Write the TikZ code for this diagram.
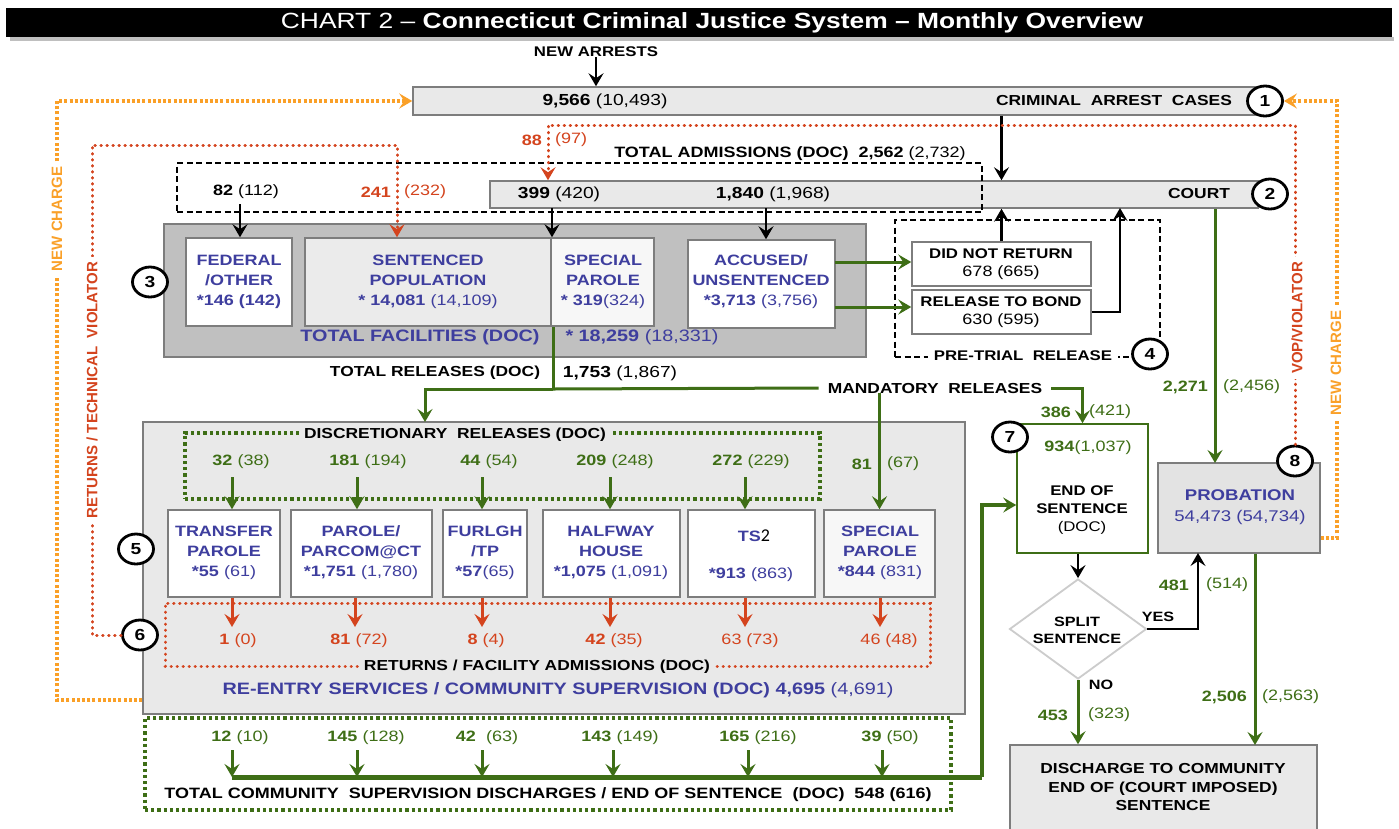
\documentclass[tikz,border=0pt]{standalone}
\usepackage{fontspec}
\setmainfont{Liberation Sans}[FakeStretch=1.2]
\newfontfamily\plainsans{Liberation Sans}
\newfontfamily\calfont{Carlito}
\usetikzlibrary{arrows.meta,shapes.geometric,fit}
\definecolor{cblue}{RGB}{62,62,158}
\definecolor{cgreen}{RGB}{62,110,22}
\definecolor{cred}{RGB}{212,68,30}
\definecolor{corange}{RGB}{250,160,40}
\definecolor{lgray}{RGB}{233,233,233}
\definecolor{dgray}{RGB}{192,192,192}
\definecolor{bgray}{RGB}{125,125,125}
\definecolor{spgray}{RGB}{247,247,247}
\definecolor{sgray}{RGB}{235,235,235}
\definecolor{pgray}{RGB}{227,227,227}
\tikzset{
  box/.style={draw=bgray, line width=1.5pt, inner sep=0pt},
  t/.style={inner sep=0pt, font=\fontsize{14}{18}\selectfont\bfseries, align=center},
  num/.style={inner sep=0pt, font=\fontsize{15}{18}\selectfont, align=center},
  bt/.style={inner sep=0pt, font=\fontsize{15}{20}\selectfont\bfseries, align=center, text=cblue},
  gn/.style={num, text=cgreen},
  rn/.style={num, text=cred},
  circ/.style={ellipse, draw=black, line width=2.8pt, fill=white, minimum width=35pt, minimum height=30pt, inner sep=0pt, font=\fontsize{16}{16}\selectfont\bfseries},
  tipa/.style={-{Stealth[length=13pt,width=15pt,inset=5pt]}},
  blk/.style={draw=black, line width=2.6pt, tipa},
  grn/.style={draw=cgreen, line width=3pt, tipa},
  grnl/.style={draw=cgreen, line width=3pt},
  gthick/.style={draw=cgreen, line width=5pt},
  redarr/.style={draw=cred, line width=3pt, tipa},
  redd/.style={draw=cred, line width=3pt, line cap=round, dash pattern=on 0.4pt off 5.6pt},
  orad/.style={draw=corange, line width=3.2pt, dash pattern=on 3pt off 2.2pt},
  grnd/.style={draw=cgreen, line width=3.4pt, dash pattern=on 3.2pt off 3pt, inner sep=0pt},
  dsh/.style={draw=black, line width=1.5pt, dash pattern=on 6pt off 3.5pt, inner sep=0pt},
  rot/.style={inner sep=0pt, inner xsep=5pt, inner ysep=2pt, fill=white, rotate=90, font=\plainsans\fontsize{15}{17}\selectfont\bfseries},
}
\begin{document}
\begin{tikzpicture}[x=1pt,y=-1pt]
\useasboundingbox (0,0) rectangle (1399,828);
\fill[white] (0,0) rectangle (1399,828);

% ---------- title ----------
\fill[gray!50] (10,37) rectangle (1394,41);
\fill[black] (6,8) rectangle (1392,37);
\node[inner sep=0pt, text=white, font=\fontsize{22}{24}\selectfont] (title) at (712,23) {CHART 2 – \textbf{Connecticut Criminal Justice System – Monthly Overview}};

% ---------- boxes ----------
\node[t] (na) at (596,52) {NEW ARRESTS};
\node[box, fill=lgray, fit={(413,87)(1258,115)}] (cac) {};
\node[num, font=\fontsize{16}{18}\selectfont] (cacn) at (605,101) {\textbf{9,566} (10,493)};
\node[t, font=\fontsize{14.5}{18}\selectfont\bfseries] (cacl) at (1114,101) {CRIMINAL\ \ ARREST\ \ CASES};

\node[box, fill=lgray, fit={(490,181)(1258,208)}] (court) {};
\node[num, font=\fontsize{16}{18}\selectfont] (cn1) at (559,194) {\textbf{399} (420)};
\node[num, font=\fontsize{16}{18}\selectfont] (cn2) at (773,194) {\textbf{1,840} (1,968)};
\node[t, font=\fontsize{14.5}{18}\selectfont\bfseries] (cl) at (1199,194) {COURT};

\node[t, font=\fontsize{15}{18}\selectfont\bfseries] (admt) at (790,154) {TOTAL ADMISSIONS (DOC)\hspace{10pt}\textbf{2,562} {\mdseries (2,732)}};

% total facilities
\node[box, fill=dgray, fit={(164,224)(866,357)}] (tf) {};
\node[box, fill=white, fit={(186,238)(292,326)}] (fed) {};
\node[box, fill=sgray, fit={(305,238)(551,326)}] (sent) {};
\node[box, fill=spgray, fit={(551,238)(654,326)}] (sp1) {};
\node[box, fill=white, fit={(688,240)(835,328)}] (acc) {};
\node[bt] (fedt) at (239,282) {FEDERAL\\/OTHER\\*146 (142)};
\node[bt] (sentt) at (428,282) {SENTENCED\\POPULATION\\* 14,081 {\mdseries (14,109)}};
\node[bt] (sp1t) at (603,282) {SPECIAL\\PAROLE\\* 319{\mdseries (324)}};
\node[bt] (acct) at (761,282) {ACCUSED/\\UNSENTENCED\\*3,713 {\mdseries (3,756)}};
\node[bt, font=\fontsize{16.5}{20}\selectfont\bfseries] (tft) at (420,337) {TOTAL FACILITIES (DOC)};
\node[bt, font=\fontsize{16.5}{20}\selectfont\bfseries] (tfn) at (642,337) {* 18,259 {\mdseries (18,331)}};

% pre-trial
\node[box, fill=white, fit={(912,242)(1091,286)}] (dnr) {};
\node[box, fill=white, fit={(912,290)(1091,334)}] (rtb) {};
\node[t, align=center] (dnrt) at (1001,264) {DID NOT RETURN\\{\mdseries\fontsize{15}{18}\selectfont 678 (665)}};
\node[t, align=center] (rtbt) at (1001,312) {RELEASE TO BOND\\{\mdseries\fontsize{15}{18}\selectfont 630 (595)}};
\node[dsh, fit={(895,220)(1160,357)}] (ptr) {};
\node[t, fill=white, inner xsep=6pt, inner ysep=2pt] (ptrl) at (1023,356) {PRE-TRIAL\ \ RELEASE};

% re-entry
\node[box, fill=lgray, fit={(143,422)(965,714)}] (re) {};
\node[grnd, fit={(185,433)(820,499)}] (disc) {};
\node[t, font=\fontsize{14.5}{18}\selectfont\bfseries, fill=lgray, inner xsep=5pt, inner ysep=2pt] (disct) at (455,435) {DISCRETIONARY\ \ RELEASES (DOC)};
\node[box, fill=white, fit={(168,510)(280,597)}] (p1) {};
\node[box, fill=white, fit={(291,510)(432,597)}] (p2) {};
\node[box, fill=white, fit={(443,510)(527,597)}] (p3) {};
\node[box, fill=white, fit={(543,510)(680,597)}] (p4) {};
\node[box, fill=white, fit={(688,510)(815,597)}] (p5) {};
\node[box, fill=spgray, fit={(824,510)(935,597)}] (sp2) {};
\node[bt] (p1t) at (224,553) {TRANSFER\\PAROLE\\*55 {\mdseries (61)}};
\node[bt] (p2t) at (361,553) {PAROLE/\\PARCOM@CT\\*1,751 {\mdseries (1,780)}};
\node[bt] (p3t) at (485,553) {FURLGH\\/TP\\*57{\mdseries (65)}};
\node[bt] (p4t) at (611,553) {HALFWAY\\HOUSE\\*1,075 {\mdseries (1,091)}};
\node[bt] (p5a) at (754,536) {TS{\calfont\mdseries\color{black}\fontsize{18}{18}\selectfont 2}};
\node[bt] (p5b) at (751,575) {*913 {\mdseries (863)}};
\node[bt] (sp2t) at (880,553) {SPECIAL\\PAROLE\\*844 {\mdseries (831)}};
\node[redd, fit={(165,603)(930,666)}, inner sep=0pt] (ret) {};
\node[t, font=\fontsize{14.5}{18}\selectfont\bfseries, fill=lgray, inner xsep=5pt, inner ysep=2pt] (rett) at (537,667) {RETURNS\ / FACILITY\ ADMISSIONS (DOC)};
\node[bt, font=\fontsize{16.5}{20}\selectfont\bfseries] (ret2) at (558,690) {RE-ENTRY SERVICES / COMMUNITY SUPERVISION (DOC) 4,695 {\mdseries (4,691)}};

% discharges
\node[grnd, fit={(145,718)(951,810)}] (dsc) {};
\node[t, font=\fontsize{15}{18}\selectfont\bfseries] (dsct) at (548,795) {TOTAL COMMUNITY\ \ SUPERVISION DISCHARGES\ / END OF SENTENCE\ \ (DOC)\ \ 548 (616)};

% right side
\node[draw=cgreen, line width=1.6pt, fill=white, inner sep=0pt, fit={(1017,424)(1148,553)}] (eos) {};
\node[gn] (eosn) at (1088,448) {\textbf{934}(1,037)};
\node[t] (eost) at (1082,510) {END OF\\SENTENCE\\{\mdseries (DOC)}};
\node[diamond, draw=gray!40, line width=1.8pt, fill=white, minimum width=137pt, minimum height=100pt, inner sep=0pt] (split) at (1078,629) {};
\node[t, font=\fontsize{13.5}{17}\selectfont\bfseries] (splitt) at (1077,630) {SPLIT\\SENTENCE};
\node[box, fill=pgray, fit={(1158,463)(1320,553)}] (prob) {};
\node[bt, font=\fontsize{15.5}{21}\selectfont\bfseries] (probt) at (1240,507) {PROBATION\\{\mdseries 54,473 (54,734)}};
\node[box, fill=lgray, fit={(1010,745)(1317,840)}] (dis) {};
\node[t, font=\fontsize{14.5}{18.5}\selectfont\bfseries] (dist) at (1163,787) {DISCHARGE TO COMMUNITY\\END OF (COURT IMPOSED)\\SENTENCE};
\node[t, font=\fontsize{13.5}{15}\selectfont\bfseries] (yes) at (1158,617) {YES};
\node[t, font=\fontsize{13.5}{15}\selectfont\bfseries] (no) at (1101,685) {NO};

% ---------- named coordinates ----------
\coordinate (f82) at (240,204);
\coordinate (ax1) at (552,208);
\coordinate (ax2) at (766,208);
\coordinate (r88x) at (548,125);
\coordinate (r241x) at (397,145);
\coordinate (rL) at (92,145);
\coordinate (oL1) at (57,700);
\coordinate (oL2) at (57,101);
\coordinate (oR) at (1337,538);
\coordinate (g1) at (835,262);
\coordinate (g2) at (835,307);
\coordinate (bondup) at (1120,208);
\coordinate (tr) at (553,389);
\coordinate (reA) at (425,422);
\coordinate (pin) at (1215,463);
\coordinate (yu) at (1198,553);
\coordinate (pd) at (1255,745);
\coordinate (h1) at (232,777);
\coordinate (hE) at (982,777);
\coordinate (hU) at (982,505);

% ---------- dashed admissions box (over court) ----------
\node[dsh, fit={(177,163)(982,212)}] (adm) {};

% ---------- black connectors ----------
\draw[blk] (na.south) -- (cac.north -| na.south);
\draw[blk] (cac.south -| dnr.north) -- (court.north -| dnr.north);
\draw[blk] (f82) -- (f82 |- fed.north);
\draw[blk] (ax1) -- (ax1 |- sp1.north);
\draw[blk] (ax2) -- (ax2 |- acc.north);
\draw[blk] (dnr.north) -- (dnr.north |- court.south);
\draw[blk] (rtb.east) -| (bondup);
\draw[blk] (split.north |- eos.south) -- (split.north);
\draw[blk] (split.east) -| (yu);

% ---------- green connectors ----------
\draw[grn] (g1) -- (dnr.west |- g1);
\draw[grn] (g2) -- (rtb.west |- g2);
\draw[grnl] (tr |- sp1.south) -- (tr);
\draw[grn] (tr) -| (reA);
\node[t, font=\fontsize{14.5}{18}\selectfont\bfseries, inner xsep=9pt] (mand) at (935,388) {MANDATORY\ \ RELEASES};
\node[t, font=\fontsize{14.5}{18}\selectfont\bfseries] (trt) at (435,373) {TOTAL RELEASES (DOC)};
\node[num, font=\fontsize{16}{18}\selectfont] (trn) at (620,373) {\textbf{1,753} (1,867)};
\draw[grnl] (tr) -- (mand.west);
\draw[grn] (mand.east) -| (eos.north);
\draw[grn] (mand.south -| sp2.north) -- (sp2.north);
\draw[grn] (court.south -| pin) -- (pin);
\draw[grn] (split.south) -- (split.south |- dis.north);
\draw[grn] (pd |- prob.south) -- (pd);

% discretionary arrows
\foreach \n/\x in {a1/232,a2/357,a3/482,a4/610,a5/745}{
  \coordinate (\n) at (\x,477);
}
\draw[grn] (a1) -- (a1 |- p1.north);
\draw[grn] (a2) -- (a2 |- p2.north);
\draw[grn] (a3) -- (a3 |- p3.north);
\draw[grn] (a4) -- (a4 |- p4.north);
\draw[grn] (a5) -- (a5 |- p5.north);
\node[gn] (d1) at (241,462) {\textbf{32} (38)};
\node[gn] (d2) at (368,462) {\textbf{181} (194)};
\node[gn] (d3) at (489,462) {\textbf{44} (54)};
\node[gn] (d4) at (615,462) {\textbf{209} (248)};
\node[gn] (d5) at (751,462) {\textbf{272} (229)};
\node[gn, anchor=east] (d6a) at (872,464) {\textbf{81}};
\node[gn, anchor=west] (d6b) at (887,464) {(67)};

% return arrows
\foreach \n/\x in {b1/232,b2/355,b3/482,b4/610,b5/745,b6/880}{
  \coordinate (\n) at (\x,627);
}
\draw[redarr] (b1 |- p1.south) -- (b1);
\draw[redarr] (b2 |- p2.south) -- (b2);
\draw[redarr] (b3 |- p3.south) -- (b3);
\draw[redarr] (b4 |- p4.south) -- (b4);
\draw[redarr] (b5 |- p5.south) -- (b5);
\draw[redarr] (b6 |- sp2.south) -- (b6);
\node[rn] (e1) at (238,641) {\textbf{1} (0)};
\node[rn] (e2) at (359,641) {\textbf{81} (72)};
\node[rn] (e3) at (486,641) {\textbf{8} (4)};
\node[rn] (e4) at (614,641) {\textbf{42} (35)};
\node[rn] (e5) at (750,641) {63 (73)};
\node[rn] (e6) at (889,641) {46 (48)};

% discharge arrows
\foreach \n/\x in {c1x/232,c2x/357,c3x/482,c4x/613,c5x/748,c6x/882}{
  \coordinate (\n) at (\x,750);
}
\draw[grn] (c1x) -- (c1x |- h1);
\draw[grn] (c2x) -- (c2x |- h1);
\draw[grn] (c3x) -- (c3x |- h1);
\draw[grn] (c4x) -- (c4x |- h1);
\draw[grn] (c5x) -- (c5x |- h1);
\draw[grn] (c6x) -- (c6x |- h1);
\draw[gthick] (h1) -- (hE);
\draw[grn, line width=3.4pt] (hE) -- (hU) -- (eos.west |- hU);
\node[gn] (k1) at (240,738) {\textbf{12} (10)};
\node[gn] (k2) at (366,738) {\textbf{145} (128)};
\node[gn] (k3) at (487,738) {\textbf{42}\ \ (63)};
\node[gn] (k4) at (620,738) {\textbf{143} (149)};
\node[gn] (k5) at (758,738) {\textbf{165} (216)};
\node[gn] (k6) at (890,738) {\textbf{39} (50)};

% split numbers
\node[rn, anchor=east] (n88) at (542,140) {\textbf{88}};
\node[rn, anchor=west] (n97) at (555,140) {(97)};
\node[rn, anchor=east] (n241) at (391,192) {\textbf{241}};
\node[rn, anchor=west] (n232) at (404,192) {(232)};
\node[num] (n82) at (246,192) {\textbf{82} (112)};
\node[gn, anchor=east] (n386) at (1071,412) {\textbf{386}};
\node[gn, anchor=west] (n421) at (1089,412) {(421)};
\node[gn, anchor=east] (n2271) at (1208,387) {\textbf{2,271}};
\node[gn, anchor=west] (n2456) at (1223,387) {(2,456)};
\node[gn, anchor=east] (n481) at (1189,585) {\textbf{481}};
\node[gn, anchor=west] (n514) at (1206,585) {(514)};
\node[gn, anchor=east] (n2506) at (1247,697) {\textbf{2,506}};
\node[gn, anchor=west] (n2563) at (1262,697) {(2,563)};
\node[gn, anchor=east] (n453) at (1068,715) {\textbf{453}};
\node[gn, anchor=west] (n323) at (1088,715) {(323)};

% ---------- circles ----------
\node[circ] (c1) at (1265,101) {1};
\node[circ] (c2) at (1270,194) {2};
\node[circ] (c3) at (150,282) {3};
\node[circ] (c4) at (1150,354) {4};
\node[circ] (c5) at (136,549) {5};
\node[circ] (c6) at (140,635) {6};
\node[circ] (c7) at (1010,437) {7};
\node[circ] (c8) at (1295,461) {8};

% ---------- dotted feedback loops ----------
\draw[redd, tipa] (c8.north) |- (r88x) -- (r88x |- court.north);
\draw[redd, tipa] (c6.west) -| (rL) -- (r241x) -- (r241x |- sent.north);
\draw[orad, tipa] (re.west |- oL1) -- (oL1) -- (oL2) -- (cac.west);
\draw[orad, tipa] (prob.east |- oR) -- (oR) |- (c1.east);
\node[rot, text=cred] (vop) at (1297,318) {VOP/VIOLATOR};
\node[rot, text=corange] (ncR) at (1336,363) {NEW CHARGE};
\node[rot, text=corange] (ncL) at (57,219) {NEW CHARGE};
\node[rot, text=cred] (rtv) at (92,390) {RETURNS / TECHNICAL\ \ VIOLATOR};
\end{tikzpicture}
\end{document}
